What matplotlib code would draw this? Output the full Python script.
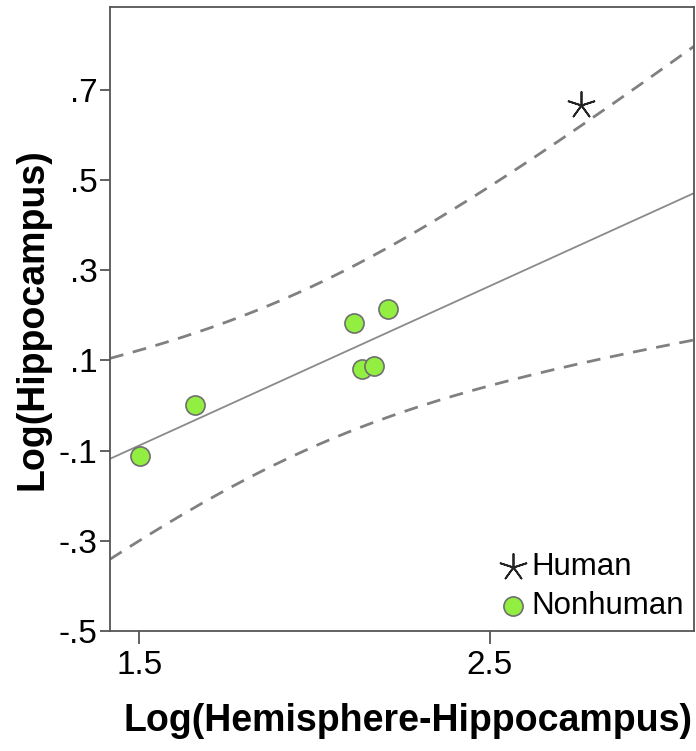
import numpy as np
import matplotlib.pyplot as plt
import matplotlib as mpl

mpl.rcParams.update({
    "font.family": ["Liberation Sans", "DejaVu Sans"],
    "axes.edgecolor": "#555555",
    "axes.linewidth": 1.3,
})

# nonhuman species: log(hemisphere - hippocampus), log(hippocampus)
nonhuman_x = [1.502, 1.659, 2.112, 2.208, 2.135, 2.168]
nonhuman_y = [-0.112, 0.001, 0.183, 0.214, 0.081, 0.087]
human_x = [2.759]
human_y = [0.668]

xticks = [1.5, 2.5]
xtick_labels = ["1.5", "2.5"]
yticks = [0.7, 0.5, 0.3, 0.1, -0.1, -0.3, -0.5]
ytick_labels = [".7", ".5", ".3", ".1", "-.1", "-.3", "-.5"]

XLIM = (1.416, 3.082)
YLIM = (-0.5, 0.885)

# OLS fit on nonhuman points with 95% prediction interval
x = np.array(nonhuman_x)
y = np.array(nonhuman_y)
n = len(x)
slope, intercept = np.polyfit(x, y, 1)
resid = y - (slope * x + intercept)
s = np.sqrt(np.sum(resid ** 2) / (n - 2))
sxx = np.sum((x - x.mean()) ** 2)
t_crit = 2.776  # t(0.975, df=4)
xx = np.linspace(XLIM[0], XLIM[1], 200)
fit = slope * xx + intercept
half = t_crit * s * np.sqrt(1 + 1 / n + (xx - x.mean()) ** 2 / sxx)

fig = plt.figure(figsize=(6.96, 7.51), dpi=100)
ax = fig.add_axes([0.158, 0.160, 0.839, 0.831])

ax.plot(xx, fit, color="#8a8a8a", lw=1.3, zorder=1)
ax.plot(xx, fit + half, color="#808080", lw=2, dashes=(5, 3.5), zorder=1)
ax.plot(xx, fit - half, color="#808080", lw=2, dashes=(5, 3.5), zorder=1)

ax.scatter(nonhuman_x, nonhuman_y, s=190, color="#92ee40", edgecolor="#6f6f6f",
           linewidth=1.2, zorder=3, label="Nonhuman")
ax.scatter(human_x, human_y, s=380, marker=(5, 2, 0), color="#222222",
           linewidth=1.3, zorder=3, label="Human")

ax.set_xlim(*XLIM)
ax.set_ylim(*YLIM)
ax.set_xticks(xticks)
ax.set_xticklabels(xtick_labels, fontsize=24)
ax.set_yticks(yticks)
ax.set_yticklabels(ytick_labels, fontsize=24)
ax.tick_params(axis="x", length=9, width=1.3, color="#555555", pad=5)
ax.tick_params(axis="y", length=7, width=1.3, color="#555555", pad=2)

ax.set_xlabel("Log(Hemisphere-Hippocampus)", fontsize=27, fontweight="bold",
              labelpad=15)
ax.xaxis.set_label_coords(0.51, -0.115)
ax.set_ylabel("Log(Hippocampus)", fontsize=27, fontweight="bold", labelpad=6)

handles, labels = ax.get_legend_handles_labels()
ax.legend(handles[::-1], labels[::-1], loc="lower right", frameon=False,
          fontsize=22.5, handletextpad=0.05, labelspacing=0.3,
          borderaxespad=0.0, handlelength=1.1,
          bbox_to_anchor=(1.005, -0.005))

fig.savefig("out.png", dpi=100, facecolor="white")
